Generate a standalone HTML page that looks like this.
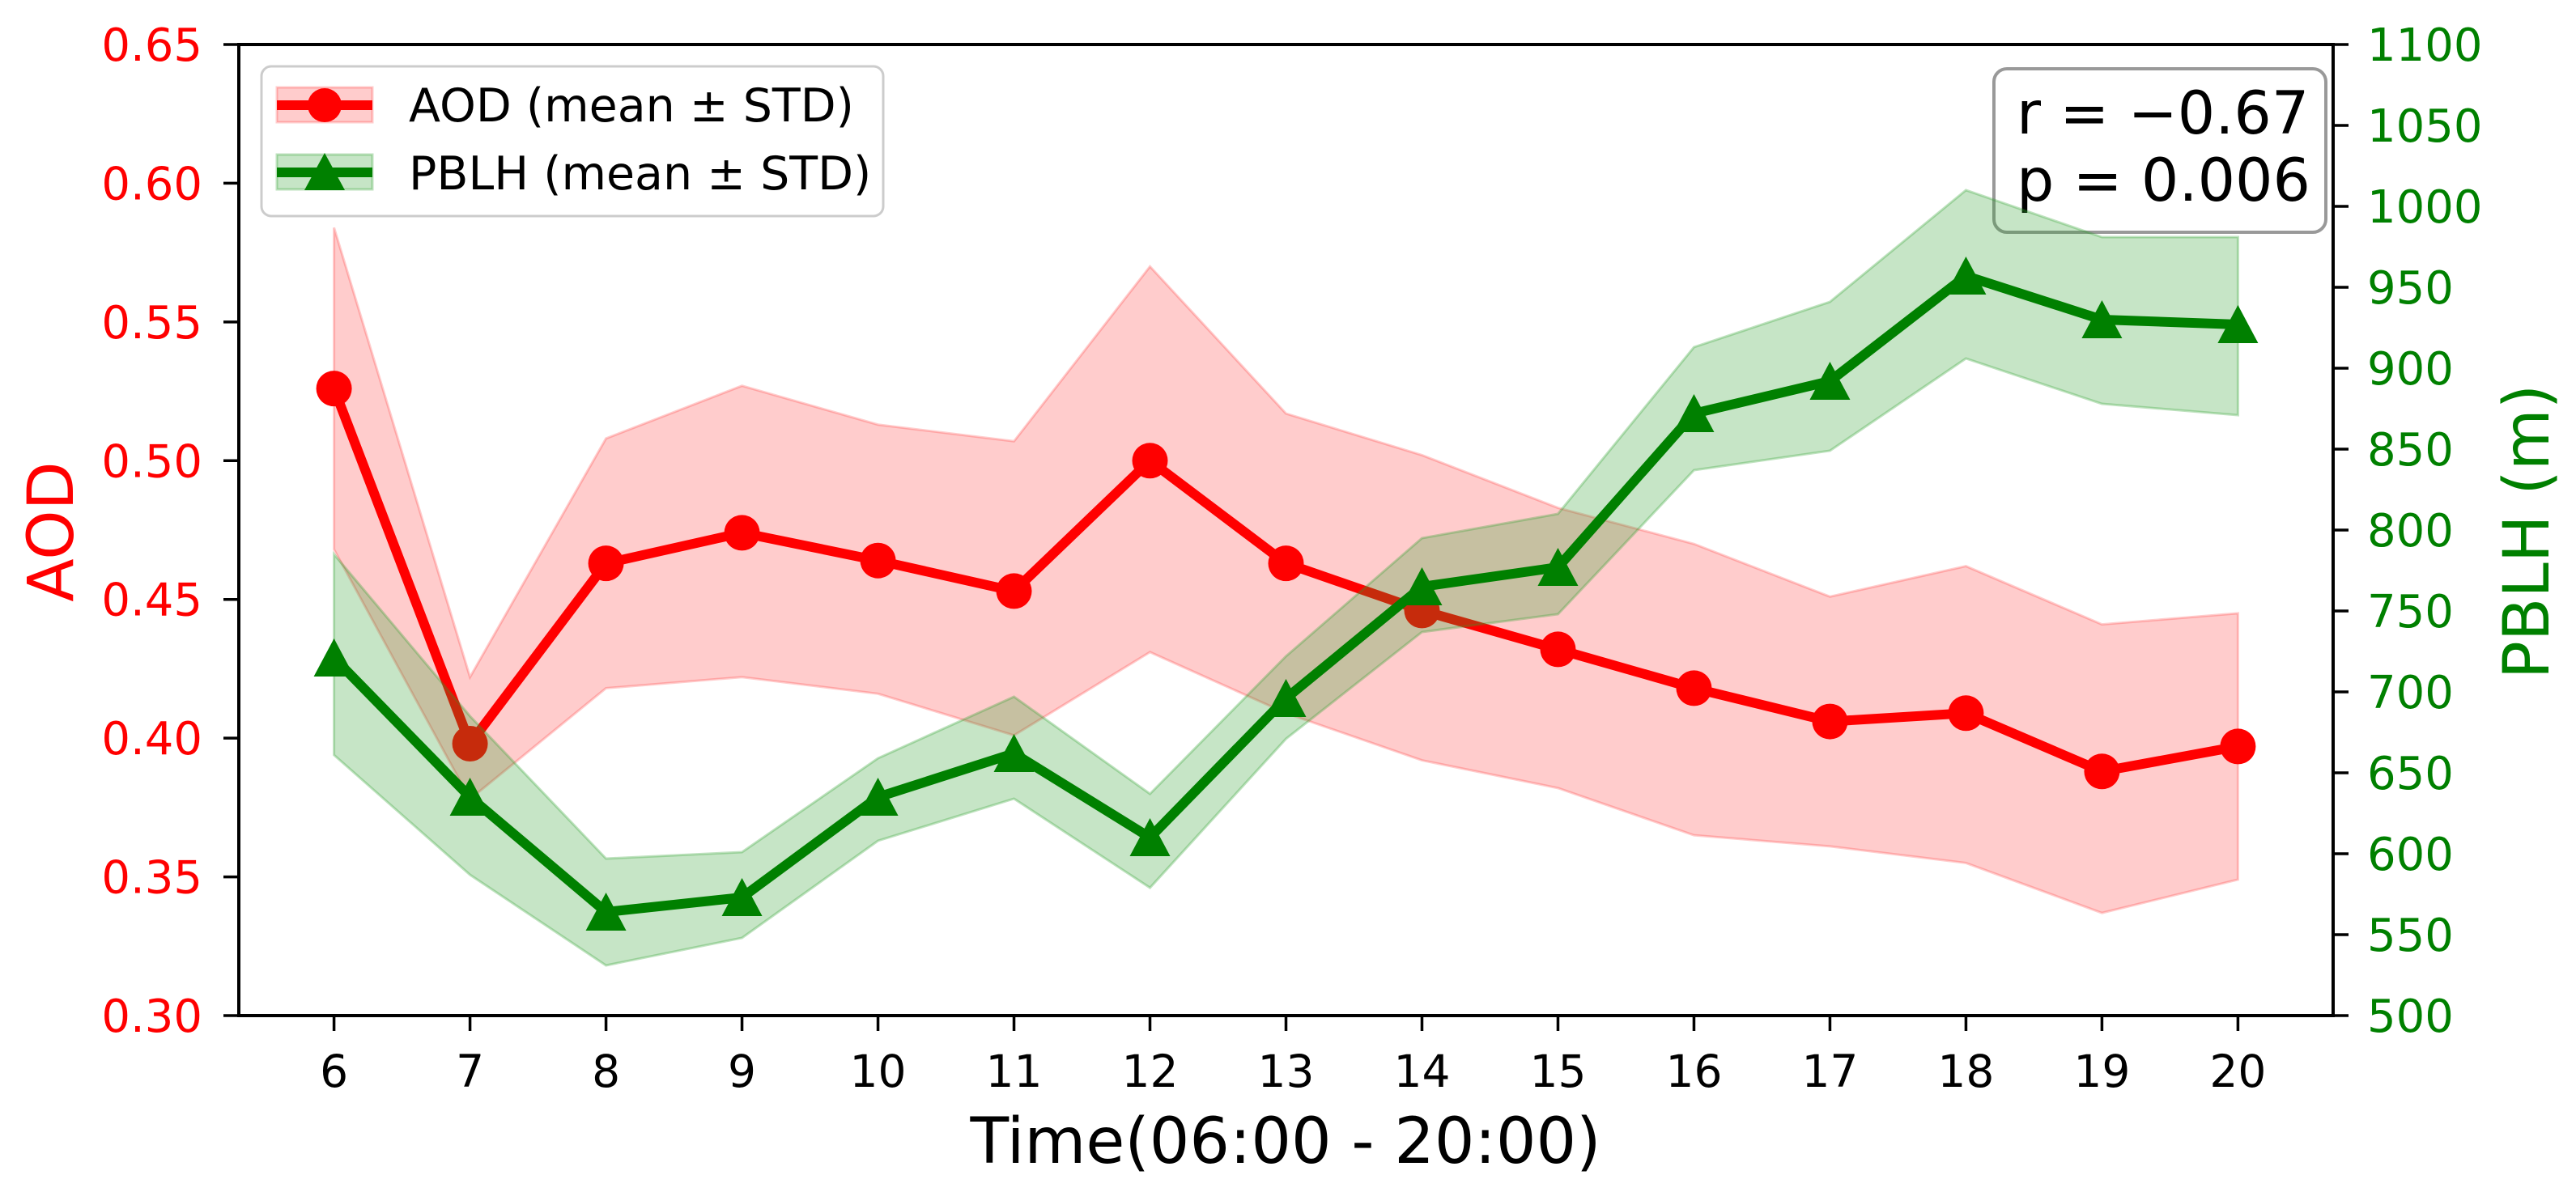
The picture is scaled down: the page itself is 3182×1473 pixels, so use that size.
<!DOCTYPE html>
<html><head><meta charset="utf-8"><style>
html,body{margin:0;padding:0;background:#fff;}
svg{display:block;font-family:"DejaVu Sans","Liberation Sans",sans-serif;}
</style></head><body>
<svg id="chart" width="3182" height="1473" viewBox="0 0 3182 1473" xmlns="http://www.w3.org/2000/svg">
<rect width="3182" height="1473" fill="#fff"/>
<g id="layer"></g>
</svg>
<script>
const hours = [6,7,8,9,10,11,12,13,14,15,16,17,18,19,20];
const aodMean  = [0.526,0.398,0.463,0.474,0.464,0.453,0.500,0.463,0.446,0.432,0.418,0.406,0.409,0.388,0.397];
const aodUpper = [0.584,0.422,0.508,0.527,0.513,0.507,0.570,0.517,0.502,0.483,0.470,0.451,0.462,0.441,0.445];
const aodLower = [0.468,0.378,0.418,0.422,0.416,0.401,0.431,0.409,0.392,0.382,0.365,0.361,0.355,0.337,0.349];
const pblhMean  = [721,635,564,573,635,662,610,696,765,777,872,892,957,930,927];
const pblhUpper = [785,685,597,601,659,697,637,722,795,810,913,941,1010,981,981];
const pblhLower = [661,587,531,548,608,634,579,671,737,748,837,849,906,878,871];
const aodTicks = ["0.30","0.35","0.40","0.45","0.50","0.55","0.60","0.65"];
const pblhTicks = [500,550,600,650,700,750,800,850,900,950,1000,1050,1100];

const L=295,R=2882,T=55,B=1255;
const NS="http://www.w3.org/2000/svg";
const layer=document.getElementById('layer');
function xS(h){return L+(h-5.3)/(20.7-5.3)*(R-L);}
function yA(v){return B-(v-0.30)/(0.65-0.30)*(B-T);}
function yP(v){return B-(v-500)/(1100-500)*(B-T);}
function mk(tag,attrs,parent){const e=document.createElementNS(NS,tag);for(const k in attrs)e.setAttribute(k,attrs[k]);(parent||layer).appendChild(e);return e;}
function band(up,lo,ys){let p=hours.map((h,i)=>xS(h)+','+ys(up[i])).concat(hours.map((h,i)=>xS(h)+','+ys(lo[i])).reverse());return p.join(' ');}

let e=mk('polygon',{points:band(aodUpper,aodLower,yA),fill:'rgba(255,0,0,0.2)',stroke:'rgba(255,0,0,0.2)','stroke-width':3});


e=mk('polyline',{points:hours.map((h,i)=>xS(h)+','+yA(aodMean[i])).join(' '),fill:'none',stroke:'#ff0000','stroke-width':12,'stroke-linejoin':'round'});


hours.forEach((h,i)=>{
  const c=mk('circle',{cx:xS(h),cy:yA(aodMean[i]),r:22,fill:'#ff0000'});
  
  
});

e=mk('rect',{x:2463,y:85,width:410,height:202,rx:16,fill:'#fff','fill-opacity':0.8,stroke:'#999','stroke-width':4});


e=mk('text',{x:2491,y:165,'font-size':73,fill:'#000'});e.textContent='r = \u22120.67';


e=mk('text',{x:2491,y:248,'font-size':73,fill:'#000'});e.textContent='p = 0.006';



e=mk('polygon',{points:band(pblhUpper,pblhLower,yP),fill:'rgba(44,160,44,0.27)',stroke:'rgba(44,160,44,0.3)','stroke-width':3});


e=mk('polyline',{points:hours.map((h,i)=>xS(h)+','+yP(pblhMean[i])).join(' '),fill:'none',stroke:'#008000','stroke-width':12,'stroke-linejoin':'round'});


hours.forEach((h,i)=>{
  const x=xS(h),y=yP(pblhMean[i]);
  const t=mk('polygon',{points:`${x},${y-24} ${x-25},${y+23} ${x+25},${y+23}`,fill:'#008000'});
  
  
});

e=mk('rect',{x:L,y:T,width:R-L,height:B-T,fill:'none',stroke:'#000','stroke-width':4});



hours.forEach(h=>{
  const x=xS(h);
  const t=mk('line',{x1:x,y1:B,x2:x,y2:B+19,stroke:'#000','stroke-width':3.5});
  
  
  const l=mk('text',{x:x,y:1343,'font-size':55,'text-anchor':'middle',fill:'#000'});
  l.textContent=h;
  
  
});
aodTicks.forEach(s=>{
  const y=yA(parseFloat(s));
  const t=mk('line',{x1:L-19,y1:y,x2:L,y2:y,stroke:'#000','stroke-width':3.5});
  
  
  const l=mk('text',{x:250,y:y+20,'font-size':56,'text-anchor':'end',fill:'#ff0000'});
  l.textContent=s;
  
  
});
pblhTicks.forEach(v=>{
  const y=yP(v);
  const t=mk('line',{x1:R,y1:y,x2:R+19,y2:y,stroke:'#000','stroke-width':3.5});
  
  
  const l=mk('text',{x:2924,y:y+20,'font-size':56,'text-anchor':'start',fill:'#008000'});
  l.textContent=v;
  
  
});

e=mk('text',{x:1588,y:1437,'font-size':78,'text-anchor':'middle',fill:'#000'});e.textContent='Time(06:00 - 20:00)';


e=mk('text',{x:0,y:0,'font-size':78,'text-anchor':'middle',fill:'#ff0000',transform:'translate(90,657) rotate(-90)'});e.textContent='AOD';


e=mk('text',{x:0,y:0,'font-size':78,'text-anchor':'middle',fill:'#008000',transform:'translate(3148,657) rotate(-90)'});e.textContent='PBLH (m)';



const lg=mk('g',{});


e=mk('rect',{x:323,y:82,width:768,height:185,rx:12,fill:'#fff','fill-opacity':0.8,stroke:'#cccccc','stroke-width':3},lg);


const g1=mk('g',{},lg);


mk('rect',{x:342,y:108,width:118,height:43,fill:'rgba(255,0,0,0.2)',stroke:'rgba(255,0,0,0.2)','stroke-width':3},g1);
mk('line',{x1:342,y1:130,x2:460,y2:130,stroke:'#ff0000','stroke-width':12},g1);
mk('circle',{cx:401,cy:130,r:21,fill:'#ff0000'},g1);
e=mk('text',{x:505,y:150,'font-size':57,fill:'#000'},g1);e.textContent='AOD (mean \u00b1 STD)';
const g2=mk('g',{},lg);


mk('rect',{x:342,y:191,width:118,height:43,fill:'rgba(44,160,44,0.27)',stroke:'rgba(44,160,44,0.3)','stroke-width':3},g2);
mk('line',{x1:342,y1:213,x2:460,y2:213,stroke:'#008000','stroke-width':12},g2);
mk('polygon',{points:'401,189 376,235 426,235',fill:'#008000'},g2);
e=mk('text',{x:505,y:234,'font-size':57,fill:'#000'},g2);e.textContent='PBLH (mean \u00b1 STD)';
</script>
</body></html>
